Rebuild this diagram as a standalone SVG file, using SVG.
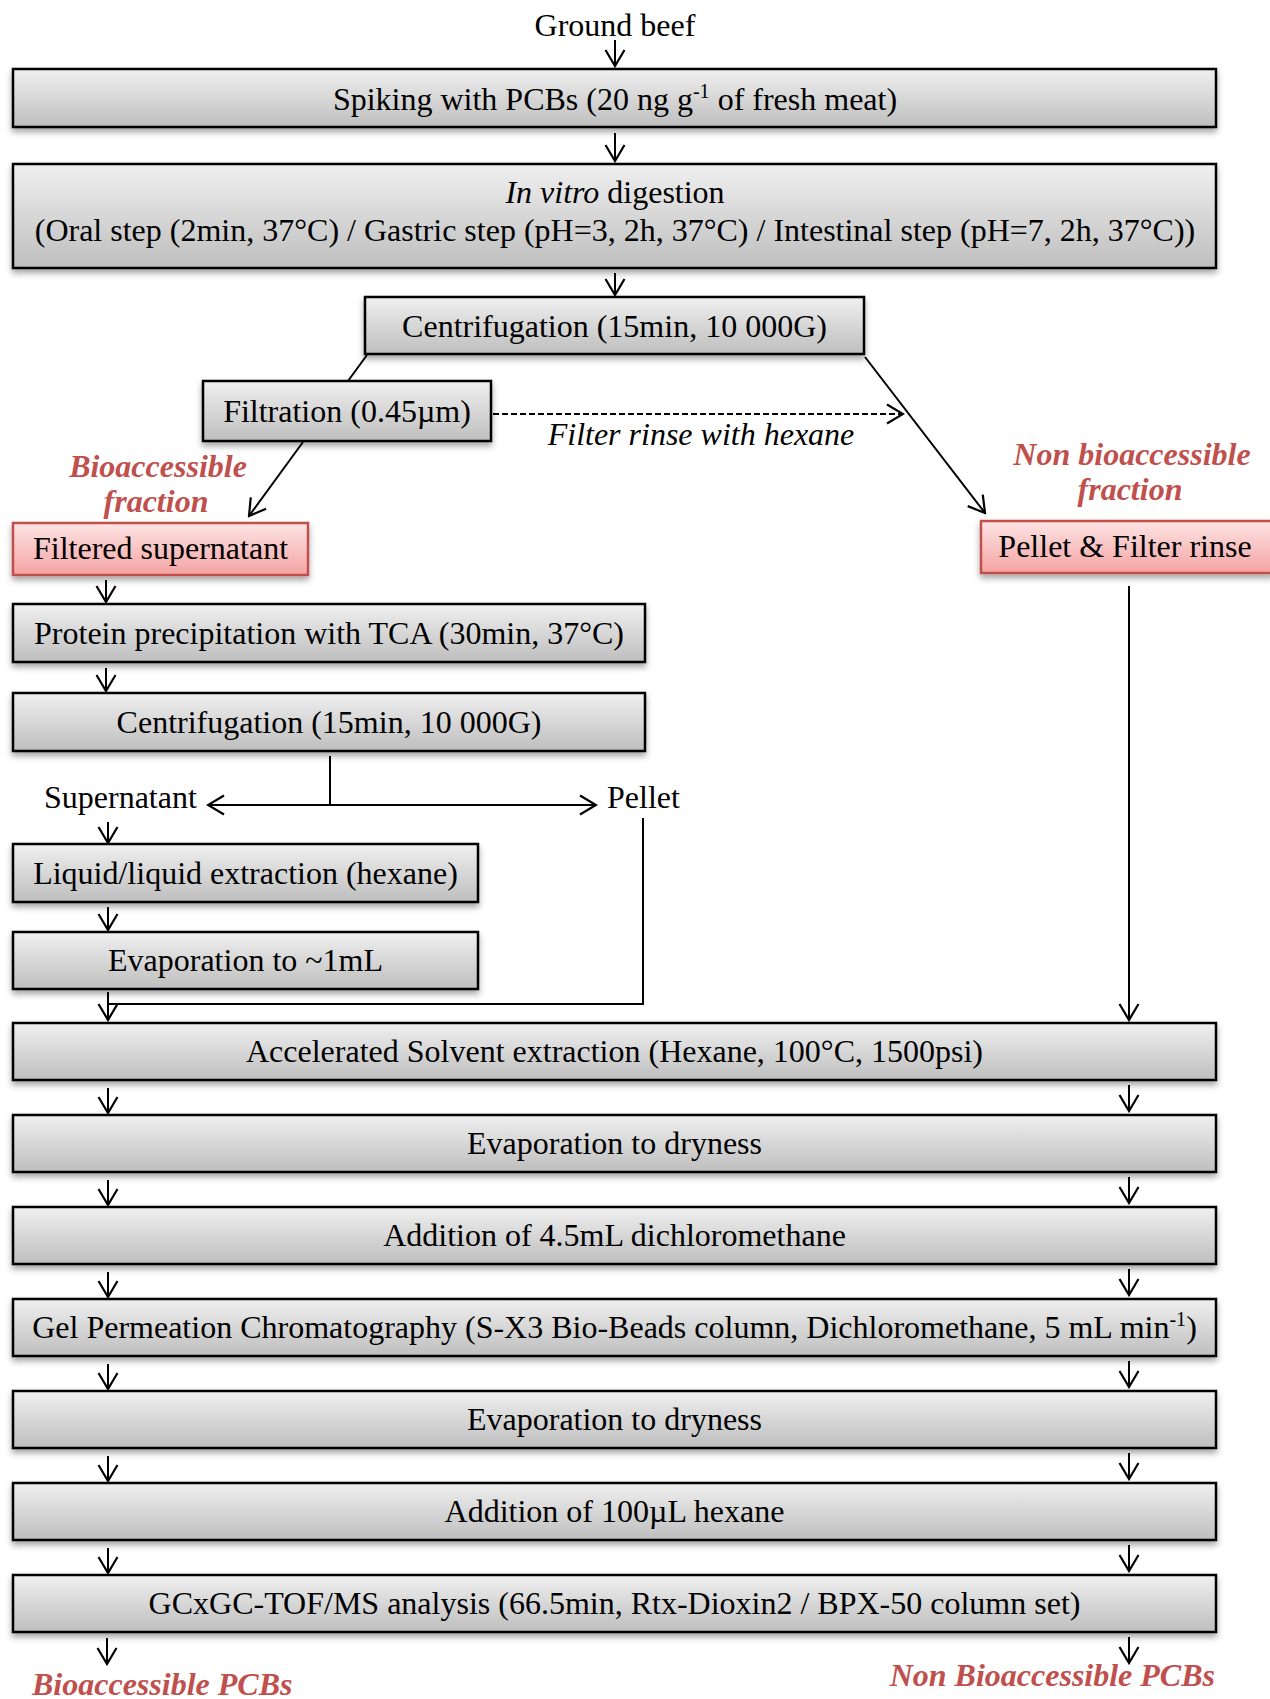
<svg xmlns="http://www.w3.org/2000/svg" width="1270" height="1699" viewBox="0 0 1270 1699">
<style>
text{font-family:"Liberation Serif","Times New Roman",serif;font-size:32px;fill:#000;}
.c{text-anchor:middle;}
.red{fill:#c0504d;font-style:italic;font-weight:bold;}
.it{font-style:italic;}
.box{fill:url(#gg);stroke:#000;stroke-width:2.5;filter:url(#sh);}
.pink{fill:url(#gp);stroke:#c0504d;stroke-width:2.5;filter:url(#sh);}
.ln{fill:none;stroke:#000;stroke-width:2;}
.ar{fill:none;stroke:#000;stroke-width:2;marker-end:url(#arr);}
</style>
<defs>
<linearGradient id="gg" x1="0" y1="0" x2="0" y2="1">
<stop offset="0" stop-color="#f0f0f0"/><stop offset="1" stop-color="#bebebe"/>
</linearGradient>
<linearGradient id="gp" x1="0" y1="0" x2="0" y2="1">
<stop offset="0" stop-color="#fde4e4"/><stop offset="1" stop-color="#f5a3a3"/>
</linearGradient>
<filter id="sh" x="-5%" y="-30%" width="110%" height="170%">
<feDropShadow dx="0" dy="4" stdDeviation="3" flood-color="#000" flood-opacity="0.35"/>
</filter>
<marker id="arr" viewBox="-19 -11 21 22" refX="0" refY="0" markerWidth="21" markerHeight="22" orient="auto-start-reverse" markerUnits="userSpaceOnUse">
<path d="M-16,-9.5 L0,0 L-16,9.5" fill="none" stroke="#000" stroke-width="2.2"/>
</marker>
</defs>

<g id="connectors">
<line class="ar" x1="615" y1="40" x2="615" y2="66"/>
<line class="ar" x1="615" y1="133" x2="615" y2="161"/>
<line class="ar" x1="615" y1="273" x2="615" y2="295"/>
<line class="ln" x1="367" y1="355" x2="348" y2="381"/>
<line class="ar" x1="303" y1="442" x2="249" y2="516"/>
<line class="ar" x1="865" y1="357" x2="985" y2="513"/>
<line class="ar" x1="493" y1="414" x2="903" y2="414" stroke-dasharray="6 3"/>
<line class="ar" x1="1129" y1="586" x2="1129" y2="1020"/>
<line class="ar" x1="106" y1="580" x2="106" y2="602"/>
<line class="ar" x1="106" y1="668" x2="106" y2="691"/>
<line class="ln" x1="330" y1="756" x2="330" y2="805"/>
<line class="ar" x1="330" y1="805" x2="596" y2="805"/>
<line class="ar" x1="330" y1="805" x2="208" y2="805"/>
<line class="ar" x1="108" y1="822" x2="108" y2="843"/>
<line class="ar" x1="108" y1="907" x2="108" y2="930"/>
<polyline class="ln" points="643,818 643,1004 108,1004"/>
<line class="ar" x1="108" y1="992" x2="108" y2="1020"/>
<line class="ar" x1="108" y1="1088" x2="108" y2="1113"/>
<line class="ar" x1="108" y1="1180" x2="108" y2="1205"/>
<line class="ar" x1="108" y1="1272" x2="108" y2="1297"/>
<line class="ar" x1="108" y1="1364" x2="108" y2="1389"/>
<line class="ar" x1="108" y1="1456" x2="108" y2="1481"/>
<line class="ar" x1="108" y1="1548" x2="108" y2="1573"/>
<line class="ar" x1="107" y1="1638" x2="107" y2="1664"/>
<line class="ar" x1="1129" y1="1085" x2="1129" y2="1111"/>
<line class="ar" x1="1129" y1="1177" x2="1129" y2="1203"/>
<line class="ar" x1="1129" y1="1269" x2="1129" y2="1295"/>
<line class="ar" x1="1129" y1="1361" x2="1129" y2="1387"/>
<line class="ar" x1="1129" y1="1453" x2="1129" y2="1479"/>
<line class="ar" x1="1129" y1="1545" x2="1129" y2="1571"/>
<line class="ar" x1="1129" y1="1637" x2="1129" y2="1663"/>
</g>

<g id="ground-beef"><text class="c" x="615" y="36">Ground beef</text></g>

<g id="spiking">
<rect class="box" x="13" y="69" width="1203" height="58"/>
<text class="c" x="615" y="110">Spiking with PCBs (20 ng g<tspan font-size="20" dy="-12">-1</tspan><tspan dy="12"> of fresh meat)</tspan></text>
</g>

<g id="in-vitro">
<rect class="box" x="13" y="164" width="1203" height="104"/>
<text class="c" x="615" y="203"><tspan class="it">In vitro</tspan> digestion</text>
<text class="c" x="615" y="241">(Oral step (2min, 37°C) / Gastric step (pH=3, 2h, 37°C) / Intestinal step (pH=7, 2h, 37°C))</text>
</g>

<g id="centrifugation-1">
<rect class="box" x="365" y="297" width="499" height="57"/>
<text class="c" x="614.5" y="337">Centrifugation (15min, 10 000G)</text>
</g>

<g id="filtration">
<rect class="box" x="203" y="381" width="288" height="60"/>
<text class="c" x="347" y="422">Filtration (0.45µm)</text>
</g>

<g id="filter-rinse-label"><text class="c it" x="701" y="445">Filter rinse with hexane</text></g>

<g id="bioaccessible-fraction-label">
<text class="c red" x="158" y="477">Bioaccessible</text>
<text class="c red" x="156" y="512">fraction</text>
</g>

<g id="non-bioaccessible-fraction-label">
<text class="c red" x="1132" y="465">Non bioaccessible</text>
<text class="c red" x="1130" y="500">fraction</text>
</g>

<g id="filtered-supernatant">
<rect class="pink" x="13" y="523" width="295" height="52"/>
<text class="c" x="160.5" y="559">Filtered supernatant</text>
</g>

<g id="pellet-filter-rinse">
<rect class="pink" x="981" y="521" width="292" height="52"/>
<text class="c" x="1125" y="557">Pellet &amp; Filter rinse</text>
</g>

<g id="protein-precipitation">
<rect class="box" x="13" y="604" width="632" height="58"/>
<text class="c" x="329" y="644">Protein precipitation with TCA (30min, 37°C)</text>
</g>

<g id="centrifugation-2">
<rect class="box" x="13" y="693" width="632" height="58"/>
<text class="c" x="329" y="733">Centrifugation (15min, 10 000G)</text>
</g>

<g id="supernatant-label"><text x="44" y="808">Supernatant</text></g>
<g id="pellet-label"><text x="607" y="808">Pellet</text></g>

<g id="liquid-extraction">
<rect class="box" x="13" y="844" width="465" height="58"/>
<text class="c" x="245.5" y="884">Liquid/liquid extraction (hexane)</text>
</g>

<g id="evaporation-1ml">
<rect class="box" x="13" y="932" width="465" height="57"/>
<text class="c" x="245.5" y="971">Evaporation to ~1mL</text>
</g>

<g id="ase">
<rect class="box" x="13" y="1023" width="1203" height="57"/>
<text class="c" x="614.5" y="1062">Accelerated Solvent extraction (Hexane, 100°C, 1500psi)</text>
</g>

<g id="evaporation-dryness-1">
<rect class="box" x="13" y="1115" width="1203" height="57"/>
<text class="c" x="614.5" y="1154">Evaporation to dryness</text>
</g>

<g id="addition-dcm">
<rect class="box" x="13" y="1207" width="1203" height="57"/>
<text class="c" x="614.5" y="1246">Addition of 4.5mL dichloromethane</text>
</g>

<g id="gpc">
<rect class="box" x="13" y="1299" width="1203" height="57"/>
<text class="c" x="614.5" y="1338">Gel Permeation Chromatography (S-X3 Bio-Beads column, Dichloromethane, 5 mL min<tspan font-size="20" dy="-12">-1</tspan><tspan dy="12">)</tspan></text>
</g>

<g id="evaporation-dryness-2">
<rect class="box" x="13" y="1391" width="1203" height="57"/>
<text class="c" x="614.5" y="1430">Evaporation to dryness</text>
</g>

<g id="addition-hexane">
<rect class="box" x="13" y="1483" width="1203" height="57"/>
<text class="c" x="614.5" y="1522">Addition of 100µL hexane</text>
</g>

<g id="gcxgc">
<rect class="box" x="13" y="1575" width="1203" height="57"/>
<text class="c" x="614.5" y="1614">GCxGC-TOF/MS analysis (66.5min, Rtx-Dioxin2 / BPX-50 column set)</text>
</g>

<g id="bioaccessible-pcbs"><text class="red" x="32" y="1695">Bioaccessible PCBs</text></g>
<g id="non-bioaccessible-pcbs"><text class="red" x="1215" y="1686" text-anchor="end">Non Bioaccessible PCBs</text></g>
</svg>
